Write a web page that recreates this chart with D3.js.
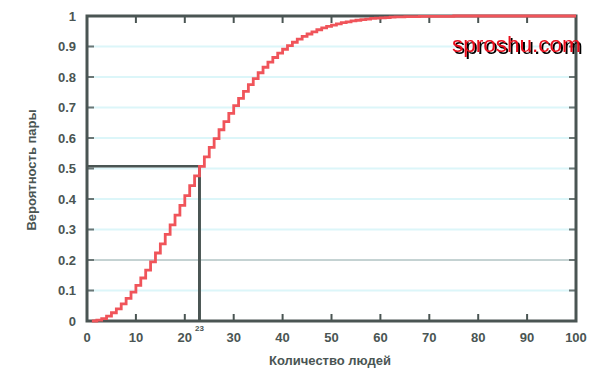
<!DOCTYPE html>
<html><head><meta charset="utf-8">
<script src="https://cdn.jsdelivr.net/npm/d3@7"></script>
<style>
body{margin:0;background:#fff;}
text{font-family:"Liberation Sans",Arial,sans-serif;}
</style></head>
<body><svg id="c" width="600" height="375"></svg>
<script>
// Number of people (x) and probability of a shared birthday (y)
const people = [1,2,3,4,5,6,7,8,9,10,11,12,13,14,15,16,17,18,19,20,21,22,23,24,25,26,27,28,29,30,31,32,33,34,35,36,37,38,39,40,41,42,43,44,45,46,47,48,49,50,51,52,53,54,55,56,57,58,59,60,61,62,63,64,65,66,67,68,69,70,75,80,85,90,95,100];
const probability = [0,0.003,0.008,0.016,0.027,0.040,0.056,0.074,0.095,0.117,0.141,0.167,0.194,0.223,0.253,0.284,0.315,0.347,0.379,0.411,0.444,0.476,0.507,0.538,0.569,0.598,0.627,0.654,0.681,0.706,0.730,0.753,0.775,0.795,0.814,0.832,0.849,0.864,0.878,0.891,0.903,0.914,0.924,0.933,0.941,0.948,0.955,0.961,0.966,0.970,0.974,0.978,0.981,0.984,0.986,0.988,0.990,0.992,0.993,0.994,0.995,0.996,0.997,0.997,0.998,0.998,0.998,0.999,0.999,0.999,1.000,1.000,1.000,1.000,1.000,1.000];
const xTicks = [0,10,20,30,40,50,60,70,80,90,100];
const yTicks = [0,0.1,0.2,0.3,0.4,0.5,0.6,0.7,0.8,0.9,1];
const yTickLabels = ["0","0.1","0.2","0.3","0.4","0.5","0.6","0.7","0.8","0.9","1"];
const markerN = [23];
const markerP = [0.507];
const xTitle = "Количество людей";
const yTitle = "Вероятность пары";
const watermark = "sproshu.com";

const svg = d3.select("#c");
const defs = svg.append("defs");
const f = defs.append("filter").attr("id","sh").attr("x","-10%").attr("y","-20%").attr("width","130%").attr("height","160%");
f.append("feDropShadow").attr("dx",2).attr("dy",2).attr("stdDeviation",0.4).attr("flood-color","#000").attr("flood-opacity",1);

const L=87,R=576,T=16,B=321;
const x = d3.scaleLinear().domain([0,100]).range([L,R]);
const y = d3.scaleLinear().domain([0,1]).range([B,T]);
const axisCol = "#4a5553";

// grid
svg.append("g").selectAll("line").data(yTicks.filter(v=>v>0&&v<1)).join("line")
  .attr("x1",L).attr("x2",R).attr("y1",d=>y(d)).attr("y2",d=>y(d))
  .attr("stroke",d=>Math.abs(d-0.2)<1e-9?"#8aa6a6":"#dcf6f9")
  .attr("stroke-width",d=>Math.abs(d-0.2)<1e-9?1:2);

// y tick marks (left & right)
const yt = yTicks.filter(v=>v>0&&v<1);
svg.append("g").selectAll("line").data(yt).join("line")
  .attr("x1",L).attr("x2",L+7).attr("y1",d=>y(d)).attr("y2",d=>y(d))
  .attr("stroke","#6b7776").attr("stroke-width",2);
svg.append("g").selectAll("line").data(yt).join("line")
  .attr("x1",R-7).attr("x2",R).attr("y1",d=>y(d)).attr("y2",d=>y(d))
  .attr("stroke","#6b7776").attr("stroke-width",2);
// x tick marks (bottom & top)
const xt = xTicks.filter(v=>v>0&&v<100);
svg.append("g").selectAll("line").data(xt).join("line")
  .attr("x1",d=>x(d)).attr("x2",d=>x(d)).attr("y1",B).attr("y2",B-7)
  .attr("stroke",axisCol).attr("stroke-width",2);
svg.append("g").selectAll("line").data(xt).join("line")
  .attr("x1",d=>x(d)).attr("x2",d=>x(d)).attr("y1",T).attr("y2",T+7)
  .attr("stroke",axisCol).attr("stroke-width",2);

// marker lines
svg.append("line").attr("x1",L).attr("x2",x(markerN[0])).attr("y1",y(markerP[0])).attr("y2",y(markerP[0]))
  .attr("stroke",axisCol).attr("stroke-width",2.5);
svg.append("line").attr("x1",x(markerN[0])).attr("x2",x(markerN[0])).attr("y1",B).attr("y2",y(markerP[0]))
  .attr("stroke",axisCol).attr("stroke-width",3);

// frame
svg.append("rect").attr("x",L).attr("y",T).attr("width",R-L).attr("height",B-T)
  .attr("fill","none").attr("stroke",axisCol).attr("stroke-width",3);

// curve
const pts = people.map((n,i)=>[n,probability[i]]);
svg.append("path").datum(pts)
  .attr("d",d3.line().x(d=>x(d[0])).y(d=>y(d[1])).curve(d3.curveStepAfter))
  .attr("fill","none").attr("stroke","#f0545a").attr("stroke-width",2.8);

// tick labels
svg.append("g").selectAll("text").data(xTicks).join("text")
  .attr("x",d=>x(d)).attr("y",342).attr("text-anchor","middle")
  .attr("font-size",13).attr("font-weight","bold").attr("fill",axisCol).text(d=>d);
svg.append("g").selectAll("text").data(yTicks).join("text")
  .attr("x",76).attr("y",d=>y(d)+4.5).attr("text-anchor","end")
  .attr("font-size",13).attr("font-weight","bold").attr("fill",axisCol).text((d,i)=>yTickLabels[i]);

// marker label
svg.append("text").attr("x",x(markerN[0])).attr("y",331).attr("text-anchor","middle")
  .attr("font-size",8).attr("font-weight","bold").attr("fill",axisCol).text(markerN[0]);

// titles
svg.append("text").attr("x",330).attr("y",365).attr("text-anchor","middle")
  .attr("font-size",13).attr("font-weight","bold").attr("fill",axisCol).text(xTitle);
svg.append("text").attr("transform","translate(36,170) rotate(-90)").attr("text-anchor","middle")
  .attr("font-size",13).attr("font-weight","bold").attr("fill",axisCol).text(yTitle);

// watermark
svg.append("text").attr("x",452).attr("y",52).attr("font-size",22.5).attr("fill","#e8101c")
  .attr("filter","url(#sh)").text(watermark);
</script></body></html>
